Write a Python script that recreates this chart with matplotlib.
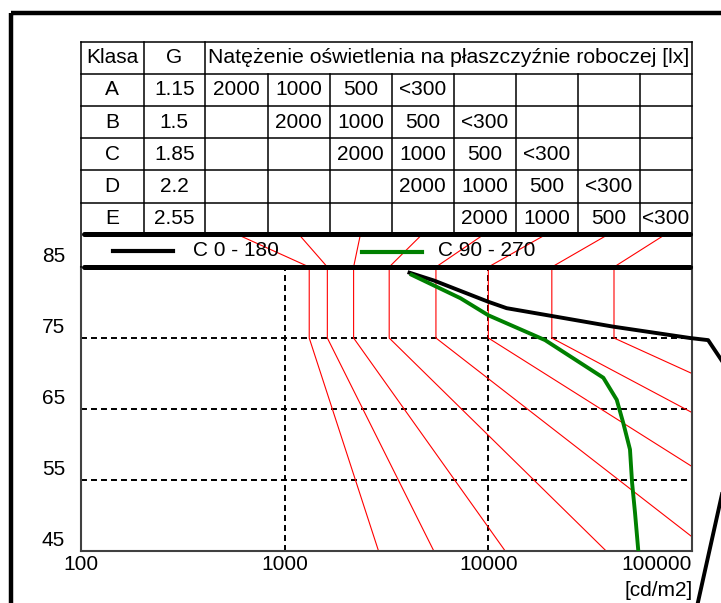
import matplotlib
matplotlib.use('Agg')
import matplotlib.pyplot as plt
from matplotlib import transforms
from matplotlib.ticker import NullLocator
from matplotlib.patches import Rectangle

plt.rcParams['font.family'] = ['Liberation Sans', 'DejaVu Sans']
plt.rcParams['lines.scale_dashes'] = False

# ---------------- data ----------------
table_header = ['Klasa', 'G', 'Natężenie oświetlenia na płaszczyźnie roboczej [lx]']
classes = ['A', 'B', 'C', 'D', 'E']
g_values = ['1.15', '1.5', '1.85', '2.2', '2.55']
illuminance_levels = ['2000', '1000', '500', '<300']   # row i starts in column i

series_names = ['C 0 - 180', 'C 90 - 270']

# limiting curves (red): luminance at 85..75 deg, then straight to end point
red_L_top = [1320, 1620, 2180, 3260, 5530, 10000, 20500, 41400]
red_angle_top = 85
red_angle_knee = 75
red_end_L = [2890, 5400, 12100, 37900, 100000, 100000, 100000, 100000]
red_end_angle = [45, 45, 45, 45, 47.0, 56.9, 64.5, 70.0]

# luminaire luminance curves
black_L = [4100, 5400, 10000, 12300, 20500, 41000, 97700, 120000, 162000, 178000, 107000, 97700]
black_angle = [84.2, 83.1, 80.1, 79.2, 78.1, 76.6, 75.0, 74.7, 69.1, 66.3, 37.8, 32.6]
green_L = [4200, 7300, 10000, 19000, 36700, 42700, 46000, 49600, 50800, 52500, 54500]
green_angle = [83.9, 80.6, 78.2, 74.7, 69.4, 66.3, 63.0, 59.3, 54.6, 50.4, 45]

x_ticks = [100, 1000, 10000, 100000]
x_tick_labels = ['100', '1000', '10000', '100000']
y_ticks = [45, 55, 65, 75, 85]
x_unit = '[cd/m2]'

# ---------------- layout ----------------
W, H = 721, 603
FS = 15
RED = '#ff0000'
GREEN = '#008000'
fig = plt.figure(figsize=(W / 100, H / 100), dpi=100)
fig.patch.set_facecolor('white')

AX_L, AX_R, AX_T, AX_B = 81, 692, 267, 551
ax = fig.add_axes([AX_L / W, (H - AX_B) / H, (AX_R - AX_L) / W, (AX_B - AX_T) / H])
ax.set_xscale('log')
ax.set_xlim(100, 100000)
ax.set_ylim(45, 85)
ax.xaxis.set_minor_locator(NullLocator())
ax.set_xticks(x_ticks)
ax.set_xticklabels(x_tick_labels)
ax.tick_params(axis='x', length=0, pad=3, labelsize=FS)
ax.set_yticks([])
ax.get_xticklabels()[-1].set_horizontalalignment('right')
for s in ['left', 'bottom', 'right']:
    ax.spines[s].set_color('#404040')
    ax.spines[s].set_linewidth(1.5)
ax.spines['top'].set_visible(False)

# y tick labels
ytr = transforms.offset_copy(ax.get_yaxis_transform(), fig=fig, x=-16, y=5, units='dots')
for v in y_ticks:
    ax.text(0, v, str(v), transform=ytr, ha='right', va='baseline', fontsize=FS)

# dashed grid
dash = (0, (4.3, 2.9))
for xv in x_ticks[1:3]:
    ax.axvline(xv, color='black', lw=1.4, linestyle=dash, zorder=1)
for yv in y_ticks[1:4]:
    ax.axhline(yv, color='black', lw=1.4, linestyle=dash, zorder=1)

# red limiting curves
for lt, le, ae in zip(red_L_top, red_end_L, red_end_angle):
    ax.plot([lt, lt, le], [red_angle_top, red_angle_knee, ae], color=RED, lw=0.8, zorder=2)

# luminaire curves
ax.plot(black_L, black_angle, color='black', lw=2.8, zorder=4, clip_on=False,
        solid_joinstyle='round')
ax.plot(green_L, green_angle, color=GREEN, lw=2.8, zorder=4, solid_joinstyle='round')

# ---------------- overlay in pixel coordinates ----------------
ov = fig.add_axes([0, 0, 1, 1])
ov.set_zorder(ax.get_zorder() + 1)
ov.set_xlim(0, W)
ov.set_ylim(H, 0)
ov.axis('off')
ov.patch.set_visible(False)

row_y = [41.7, 73.8, 106, 138.2, 170.3, 202.5, 234]
col_x = [81, 143.5, 205, 267.5, 329.5, 391.5, 453.5, 515.5, 578, 640, 692]
BAND_TOP, BAND_BOT = 234, 267
TL = dict(color='black', lw=1.1, zorder=3)

for y in row_y[:-1]:
    ov.plot([col_x[0], col_x[-1]], [y, y], **TL)
for x in (col_x[0], col_x[-1]):
    ov.plot([x, x], [row_y[0], BAND_BOT], **TL)
for x in col_x[1:3]:
    ov.plot([x, x], [row_y[0], row_y[-1]], **TL)
for x in col_x[3:-1]:
    ov.plot([x, x], [row_y[1], row_y[-1]], **TL)

# header
ov.text((col_x[0] + col_x[1]) / 2, (row_y[0] + row_y[1]) / 2, table_header[0],
        ha='center', va='center', fontsize=FS)
ov.text((col_x[1] + col_x[2]) / 2, (row_y[0] + row_y[1]) / 2, table_header[1],
        ha='center', va='center', fontsize=FS)
ov.text((col_x[2] + col_x[-1]) / 2, (row_y[0] + row_y[1]) / 2, table_header[2],
        ha='center', va='center', fontsize=15.3)
# body
for i, (c, g) in enumerate(zip(classes, g_values)):
    yc = (row_y[i + 1] + row_y[i + 2]) / 2
    ov.text((col_x[0] + col_x[1]) / 2, yc, c, ha='center', va='center', fontsize=FS)
    ov.text((col_x[1] + col_x[2]) / 2, yc, g, ha='center', va='center', fontsize=FS)
    for j, lev in enumerate(illuminance_levels):
        k = 2 + i + j
        ov.text((col_x[k] + col_x[k + 1]) / 2, yc, lev, ha='center', va='center', fontsize=FS)

# band thick lines
for y in (BAND_TOP, BAND_BOT):
    ov.plot([84, 690], [y, y], color='black', lw=3.6, solid_capstyle='round', zorder=5)

# connectors from each limiting curve (at 85 deg) to its table column
for i, lt in enumerate(red_L_top):
    dx, dy = ax.transData.transform((lt, red_angle_top))
    cx = (col_x[2 + i] + col_x[3 + i]) / 2
    ov.plot([dx, cx], [H - dy, BAND_TOP], color=RED, lw=0.8, zorder=2)

# legend inside the band
ov.plot([113, 173], [251, 251], color='black', lw=3, zorder=4)
ov.text(193, 251, series_names[0], ha='left', va='center', fontsize=FS, zorder=4)
ov.plot([362, 422], [252, 252], color=GREEN, lw=3, zorder=4)
ov.text(438.5, 251, series_names[1], ha='left', va='center', fontsize=FS, zorder=4)

# unit label
ov.text(693, 590, x_unit, ha='right', va='center', fontsize=FS)

# outer frame
ov.add_patch(Rectangle((10.5, 12.5), 900, 800, fill=False, lw=3.2, edgecolor='black', zorder=6))

fig.savefig('out.png', dpi=100)
